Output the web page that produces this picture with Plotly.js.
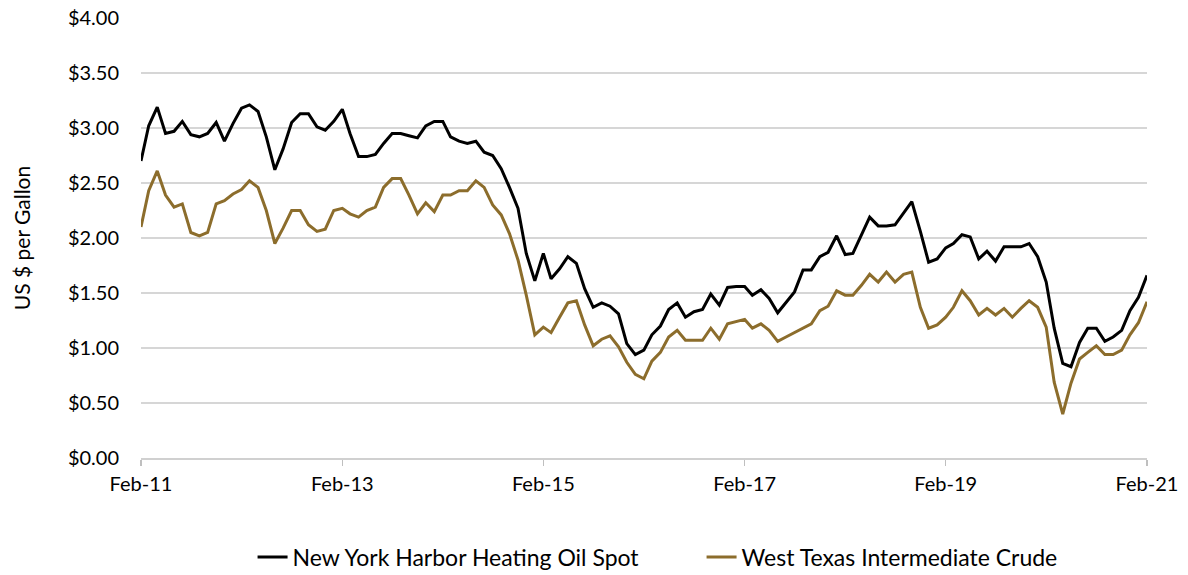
<!DOCTYPE html>
<html>
<head>
<meta charset="utf-8">
<script src="https://cdn.plot.ly/plotly-3.0.1.min.js"></script>
<style>
  html, body { margin: 0; padding: 0; background: #ffffff; }
  #chart { width: 1188px; height: 575px; }
</style>
</head>
<body>
<div id="chart"></div>
<script>
// Monthly values, Feb-2011 .. Feb-2021 (US $ per gallon)
const startYear = 2011;
const startMonth = 2;
const monthCount = 121;

const heatingOil = [
  2.70, 3.02, 3.19, 2.95, 2.97, 3.06, 2.94, 2.92, 2.95, 3.05, 2.88, 3.04,
  3.18, 3.21, 3.15, 2.92, 2.62, 2.81, 3.05, 3.13, 3.13, 3.01, 2.98, 3.06,
  3.17, 2.95, 2.74, 2.74, 2.76, 2.86, 2.95, 2.95, 2.93, 2.91, 3.02, 3.06,
  3.06, 2.92, 2.88, 2.86, 2.88, 2.78, 2.75, 2.63, 2.46, 2.27, 1.86, 1.61,
  1.86, 1.63, 1.72, 1.83, 1.77, 1.54, 1.37, 1.41, 1.38, 1.31, 1.04, 0.94,
  0.98, 1.12, 1.20, 1.35, 1.41, 1.28, 1.33, 1.35, 1.49, 1.39, 1.55, 1.56,
  1.56, 1.48, 1.53, 1.45, 1.32, 1.41, 1.51, 1.71, 1.71, 1.83, 1.87, 2.02,
  1.85, 1.86, 2.03, 2.19, 2.11, 2.11, 2.12, 2.23, 2.33, 2.06, 1.78, 1.81,
  1.91, 1.95, 2.03, 2.01, 1.81, 1.88, 1.79, 1.92, 1.92, 1.92, 1.95, 1.83,
  1.60, 1.18, 0.86, 0.83, 1.05, 1.18, 1.18, 1.06, 1.10, 1.16, 1.34, 1.46,
  1.66
];

const wtiCrude = [
  2.10, 2.43, 2.61, 2.39, 2.28, 2.31, 2.05, 2.02, 2.05, 2.31, 2.34, 2.40,
  2.44, 2.52, 2.46, 2.25, 1.95, 2.09, 2.25, 2.25, 2.12, 2.06, 2.08, 2.25,
  2.27, 2.22, 2.19, 2.25, 2.28, 2.46, 2.54, 2.54, 2.39, 2.22, 2.32, 2.24,
  2.39, 2.39, 2.43, 2.43, 2.52, 2.46, 2.30, 2.21, 2.04, 1.80, 1.48, 1.12,
  1.19, 1.14, 1.28, 1.41, 1.43, 1.21, 1.02, 1.08, 1.11, 1.01, 0.87, 0.76,
  0.72, 0.88, 0.96, 1.10, 1.16, 1.07, 1.07, 1.07, 1.18, 1.08, 1.22, 1.24,
  1.26, 1.18, 1.22, 1.16, 1.06, 1.10, 1.14, 1.18, 1.22, 1.34, 1.38, 1.52,
  1.48, 1.48, 1.57, 1.67, 1.60, 1.69, 1.60, 1.67, 1.69, 1.37, 1.18, 1.21,
  1.28, 1.37, 1.52, 1.43, 1.30, 1.36, 1.30, 1.36, 1.28, 1.36, 1.43, 1.37,
  1.19, 0.69, 0.40, 0.68, 0.90, 0.96, 1.02, 0.94, 0.94, 0.98, 1.12, 1.23,
  1.42
];

const seriesNames = ["New York Harbor Heating Oil Spot", "West Texas Intermediate Crude"];
const yTickVals = [0, 0.5, 1, 1.5, 2, 2.5, 3, 3.5, 4];
const yTickText = ["$0.00", "$0.50", "$1.00", "$1.50", "$2.00", "$2.50", "$3.00", "$3.50", "$4.00"];

// month categories as dates
const months = [];
for (let i = 0; i < monthCount; i++) {
  const m0 = (startMonth - 1) + i;
  const y = startYear + Math.floor(m0 / 12);
  const m = (m0 % 12) + 1;
  months.push(y + "-" + String(m).padStart(2, "0") + "-01");
}

const FONT = "Gill Sans, 'Gill Sans MT', Lato, sans-serif";

const traces = [
  {
    x: months, y: heatingOil, name: seriesNames[0],
    type: "scatter", mode: "lines",
    line: { color: "#000000", width: 3 }
  },
  {
    x: months, y: wtiCrude, name: seriesNames[1],
    type: "scatter", mode: "lines",
    line: { color: "#8c6d2c", width: 3 }
  }
];

const layout = {
  width: 1188, height: 575,
  margin: { l: 141, r: 41, t: 18, b: 117 },
  paper_bgcolor: "#ffffff",
  plot_bgcolor: "#ffffff",
  font: { family: FONT, size: 20, color: "#000000" },
  showlegend: true,
  legend: {
    orientation: "h",
    xref: "paper", x: 0.1109, xanchor: "left",
    yref: "container", y: 0.031, yanchor: "middle",
    entrywidth: 404, entrywidthmode: "pixels",
    font: { family: FONT, size: 23, color: "#000000" },
    traceorder: "normal"
  },
  xaxis: {
    type: "date",
    range: [months[0], months[monthCount - 1]],
    tick0: months[0],
    dtick: "M24",
    tickformat: "%b-%y",
    ticks: "outside",
    ticklen: 6,
    tickwidth: 1.5,
    tickcolor: "#bfbfbf",
    ticklabelstandoff: 1,
    showline: true,
    linecolor: "#d0d0d0",
    linewidth: 2,
    showgrid: false,
    zeroline: false,
    automargin: false,
    tickfont: { family: FONT, size: 20, color: "#000000" }
  },
  yaxis: {
    range: [0, 4],
    tickvals: yTickVals,
    ticktext: yTickText,
    ticks: "",
    ticklabelstandoff: 21,
    showgrid: true,
    gridcolor: "#d6d6d6",
    gridwidth: 2,
    zeroline: false,
    showline: false,
    automargin: false,
    tickfont: { family: FONT, size: 20, color: "#000000" },
    title: {
      text: "US $ per Gallon",
      font: { family: FONT, size: 21, color: "#000000" },
      standoff: 31
    }
  }
};

Plotly.newPlot("chart", traces, layout, { displayModeBar: false, staticPlot: true });
</script>
</body>
</html>
